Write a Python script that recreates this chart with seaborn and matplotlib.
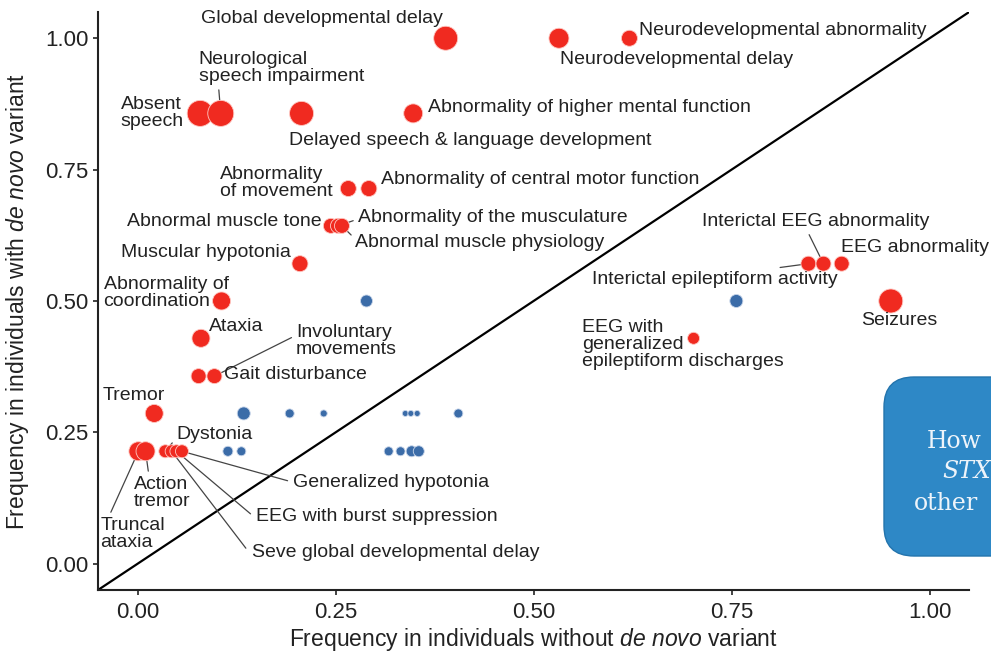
import numpy as np
import pandas as pd
import matplotlib
matplotlib.use("Agg")
import matplotlib.pyplot as plt
import seaborn as sns
from matplotlib.patches import FancyBboxPatch
from matplotlib.transforms import IdentityTransform

# ---------------- data ----------------
red_names = [
    "Global developmental delay", "Neurodevelopmental delay", "Neurodevelopmental abnormality",
    "Absent speech", "Neurological speech impairment", "Delayed speech & language development",
    "Abnormality of higher mental function", "Abnormality of movement",
    "Abnormality of central motor function", "Abnormal muscle tone",
    "Abnormality of the musculature", "Abnormal muscle physiology", "Muscular hypotonia",
    "Abnormality of coordination", "Ataxia", "Gait disturbance", "Involuntary movements",
    "Tremor", "Truncal ataxia", "Action tremor", "Dystonia",
    "Seve global developmental delay", "EEG with burst suppression", "Generalized hypotonia",
    "Interictal epileptiform activity", "Interictal EEG abnormality", "EEG abnormality",
    "Seizures", "EEG with generalized epileptiform discharges",
]
red_x = [0.389, 0.532, 0.621, 0.079, 0.105, 0.207, 0.348, 0.266, 0.292, 0.244, 0.253, 0.258,
         0.205, 0.106, 0.080, 0.077, 0.097, 0.021, 0.001, 0.010, 0.035, 0.043, 0.049, 0.056,
         0.847, 0.866, 0.889, 0.951, 0.702]
red_y = [1.000, 1.000, 1.000, 0.857, 0.857, 0.857, 0.857, 0.714, 0.714, 0.643, 0.643, 0.643,
         0.571, 0.500, 0.429, 0.357, 0.357, 0.286, 0.214, 0.214, 0.214, 0.214, 0.214, 0.214,
         0.571, 0.571, 0.571, 0.500, 0.429]
red_weight = [24, 20, 16, 26, 26, 24, 19, 16, 16, 15, 15, 15, 16, 18, 18, 15, 15, 18, 19, 19,
              13, 13, 13, 13, 15, 15, 15, 24, 12]

blue_x = [0.289, 0.756, 0.134, 0.192, 0.235, 0.338, 0.345, 0.353, 0.405,
          0.114, 0.131, 0.317, 0.332, 0.346, 0.355]
blue_y = [0.500, 0.500, 0.286, 0.286, 0.286, 0.286, 0.286, 0.286, 0.286,
          0.214, 0.214, 0.214, 0.214, 0.214, 0.214]
blue_weight = [12, 13, 13, 9, 7, 6, 6, 6, 9, 10, 9, 9, 9, 11, 11]

x_ticks = [0.00, 0.25, 0.50, 0.75, 1.00]
y_ticks = [0.00, 0.25, 0.50, 0.75, 1.00]
tick_labels = ["0.00", "0.25", "0.50", "0.75", "1.00"]

red_df = pd.DataFrame({"x": red_x, "y": red_y, "w": red_weight})
blue_df = pd.DataFrame({"x": blue_x, "y": blue_y, "w": blue_weight})

# ---------------- style ----------------
sns.set_theme(style="ticks")
plt.rcParams["font.family"] = ["Liberation Sans", "DejaVu Sans"]
plt.rcParams["mathtext.fontset"] = "custom"
plt.rcParams["mathtext.rm"] = "Liberation Sans"
plt.rcParams["mathtext.it"] = "Liberation Sans:italic"

RED = "#f02a20"
BLUE = "#3b6ca8"
INK = "#222222"

fig = plt.figure(figsize=(9.91, 6.51), dpi=100)
ax = fig.add_axes([0.0989, 0.0937, 0.8791, 0.8879])

ax.axline((0, 0), slope=1, color="black", lw=1.6, zorder=1)

all_w = sorted(set(red_weight) | set(blue_weight))
size_map = {w: (w * 0.72) ** 2 for w in all_w}
sns.scatterplot(data=blue_df, x="x", y="y", size="w", sizes=size_map, color=BLUE,
                legend=False, ax=ax, edgecolor="#c9d6ea", linewidth=0.6, zorder=3)
sns.scatterplot(data=red_df, x="x", y="y", size="w", sizes=size_map, color=RED,
                legend=False, ax=ax, edgecolor="#ffc8c2", linewidth=0.6, zorder=3)

# ---------------- labels ----------------
# name: (text x, text y, ha, va, leader relpos or None)
label_layout = {
    "Global developmental delay": (0.0795, 1.038, "left", "center", None),
    "Neurodevelopmental abnormality": (0.633, 1.015, "left", "center", None),
    "Neurodevelopmental delay": (0.533, 0.960, "left", "center", None),
    "Neurological speech impairment": (0.077, 0.943, "left", "center", (0.12, 0.0)),
    "Absent speech": (-0.0215, 0.857, "left", "center", None),
    "Delayed speech & language development": (0.191, 0.806, "left", "center", None),
    "Abnormality of higher mental function": (0.367, 0.869, "left", "center", None),
    "Abnormality of movement": (0.1035, 0.724, "left", "center", None),
    "Abnormality of central motor function": (0.307, 0.731, "left", "center", None),
    "Abnormal muscle tone": (0.232, 0.651, "right", "center", None),
    "Abnormality of the musculature": (0.278, 0.659, "left", "center", (0.0, 0.4)),
    "Abnormal muscle physiology": (0.275, 0.611, "left", "center", (0.0, 0.7)),
    "Muscular hypotonia": (0.194, 0.592, "right", "center", None),
    "Abnormality of coordination": (-0.043, 0.516, "left", "center", None),
    "Ataxia": (0.0896, 0.451, "left", "center", None),
    "Involuntary movements": (0.200, 0.423, "left", "center", (-0.02, 0.65)),
    "Gait disturbance": (0.1086, 0.360, "left", "center", None),
    "Tremor": (-0.044, 0.320, "left", "center", None),
    "Dystonia": (0.049, 0.246, "left", "center", (0.0, 0.3)),
    "Action tremor": (-0.005, 0.135, "left", "center", (0.27, 1.0)),
    "Truncal ataxia": (-0.047, 0.057, "left", "center", (0.13, 1.0)),
    "Generalized hypotonia": (0.196, 0.154, "left", "center", (-0.02, 0.6)),
    "EEG with burst suppression": (0.150, 0.090, "left", "center", (-0.02, 0.6)),
    "Seve global developmental delay": (0.145, 0.021, "left", "center", (-0.02, 0.7)),
    "Interictal EEG abnormality": (0.713, 0.651, "left", "center", (0.46, 0.0)),
    "EEG abnormality": (0.888, 0.602, "left", "center", None),
    "Interictal epileptiform activity": (0.574, 0.541, "left", "center", (0.66, 1.0)),
    "Seizures": (0.913, 0.463, "left", "center", None),
    "EEG with generalized epileptiform discharges": (0.561, 0.417, "left", "center", None),
}
label_text = {
    "Neurological speech impairment": "Neurological\nspeech impairment",
    "Absent speech": "Absent\nspeech",
    "Abnormality of movement": "Abnormality\nof movement",
    "Abnormality of coordination": "Abnormality of\ncoordination",
    "Involuntary movements": "Involuntary\nmovements",
    "Action tremor": "Action\ntremor",
    "Truncal ataxia": "Truncal\nataxia",
    "EEG with generalized epileptiform discharges": "EEG with\ngeneralized\nepileptiform discharges",
}

for name, px, py in zip(red_names, red_x, red_y):
    tx, ty, ha, va, rel = label_layout[name]
    txt = label_text.get(name, name)
    if rel is None:
        ax.text(tx, ty, txt, ha=ha, va=va, fontsize=14, color=INK,
                linespacing=1.0, zorder=4)
    else:
        ax.annotate(txt, xy=(px, py), xytext=(tx, ty), ha=ha, va=va,
                    fontsize=14, color=INK, linespacing=1.0, zorder=2,
                    arrowprops=dict(arrowstyle="-", color="#444444", lw=0.9,
                                    shrinkA=1, shrinkB=0, relpos=rel))

# ---------------- axes ----------------
ax.set_xlim(-0.05, 1.05)
ax.set_ylim(-0.05, 1.05)
ax.set_xticks(x_ticks)
ax.set_xticklabels(tick_labels)
ax.set_yticks(y_ticks)
ax.set_yticklabels(tick_labels)
ax.tick_params(axis="both", labelsize=16, colors=INK, length=3.6, width=1.2)
ax.tick_params(axis="x", pad=5)
ax.tick_params(axis="y", pad=3)
for s in ["top", "right"]:
    ax.spines[s].set_visible(False)
for s in ["left", "bottom"]:
    ax.spines[s].set_linewidth(1.5)
    ax.spines[s].set_color(INK)

ax.set_xlabel(r"Frequency in individuals without $\it{de\ novo}$ variant",
              fontsize=16.5, color=INK)
ax.set_ylabel(r"Frequency in individuals with $\it{de\ novo}$ variant",
              fontsize=16.5, color=INK)
ax.xaxis.set_label_coords(0.5, -0.062)
ax.yaxis.set_label_coords(-0.077, 0.5)

# ---------------- side box (partially cut off) ----------------
box = FancyBboxPatch((884, 95), 200, 179, boxstyle="round,pad=0,rounding_size=30",
                     transform=IdentityTransform(), facecolor="#2e88c6",
                     edgecolor="#2374ad", lw=1.0, zorder=10)
fig.add_artist(box)
fig.text(927 / 991, 1 - 441 / 651, "How", family="DejaVu Serif", fontsize=17,
         color="#eef4fa", ha="left", va="center", zorder=11)
fig.text(942 / 991, 1 - 472 / 651, "STX", family="DejaVu Serif", style="italic",
         fontsize=17, color="#eef4fa", ha="left", va="center", zorder=11)
fig.text(914 / 991, 1 - 504 / 651, "other", family="DejaVu Serif", fontsize=17,
         color="#eef4fa", ha="left", va="center", zorder=11)

fig.savefig("out.png", dpi=100)
